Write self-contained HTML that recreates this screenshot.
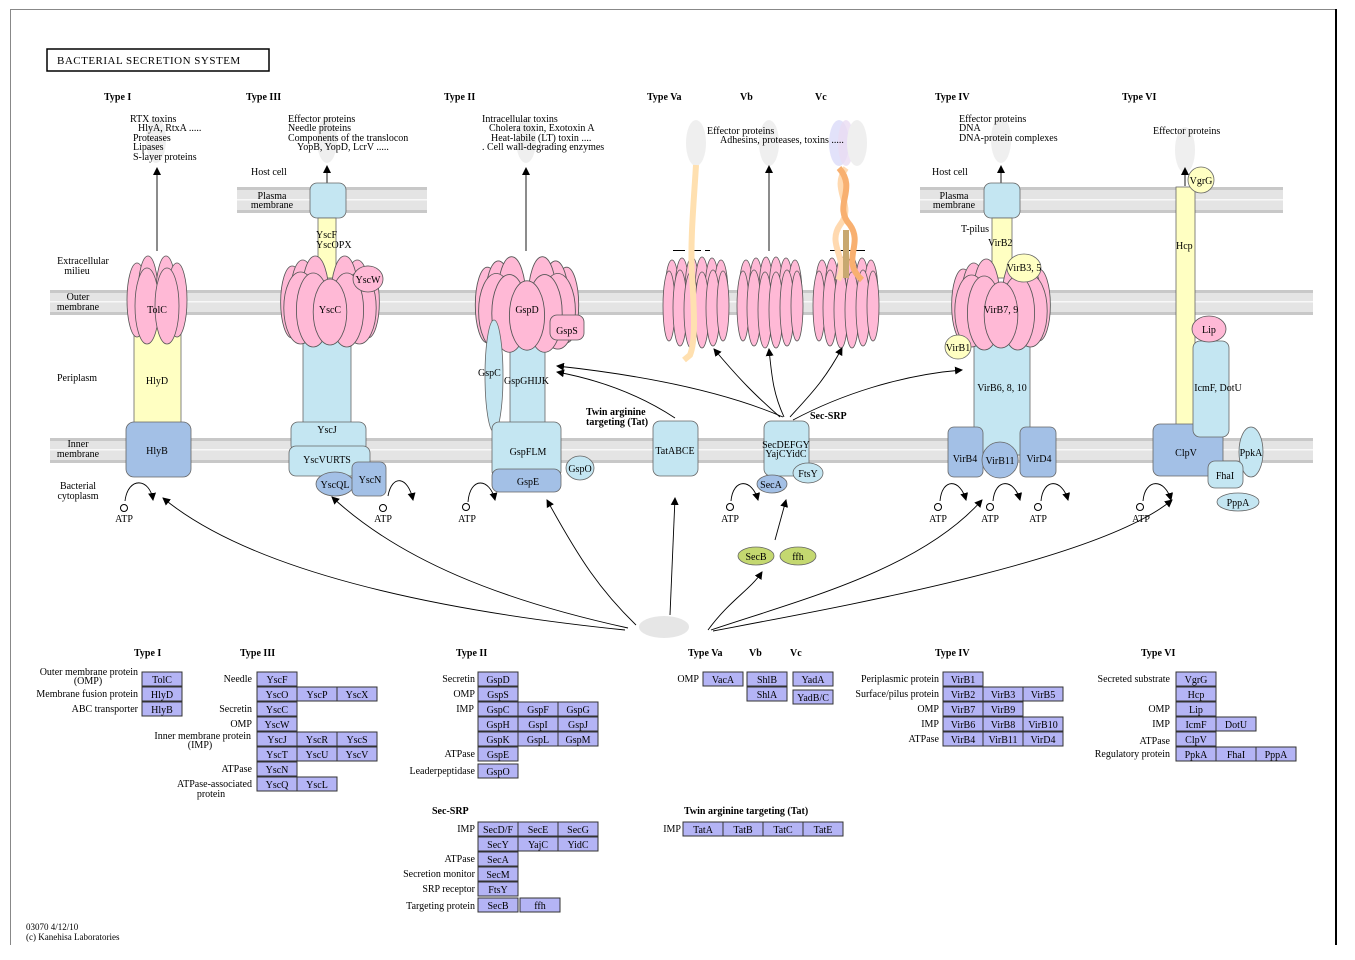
<!DOCTYPE html>
<html><head><meta charset="utf-8"><style>
html,body{margin:0;padding:0;background:#fff;}
svg{display:block;font-family:"Liberation Serif",serif;}
text{font-size:10px;fill:#000;}
.b{font-weight:bold;}
.tb rect{fill:#b4b4f5;stroke:#333;stroke-width:1;}
.tb text{text-anchor:middle;}
.r{text-anchor:end;}
.m{text-anchor:middle;}
.pk{fill:#ffb9d6;stroke:#555;stroke-width:0.8;}
.ye{fill:#ffffc2;stroke:#666;stroke-width:0.8;}
.lb{fill:#c4e6f2;stroke:#666;stroke-width:0.8;}
.db{fill:#a3c0e6;stroke:#666;stroke-width:0.8;}
.gr{fill:#c4d870;stroke:#666;stroke-width:0.8;}
.ar{fill:none;stroke:#000;stroke-width:0.9;marker-end:url(#ah);}
.gh{fill:#efefef;}
</style></head><body>
<svg width="1355" height="960" viewBox="0 0 1355 960">
<defs>
<marker id="ah" markerWidth="8" markerHeight="8" refX="7" refY="4" orient="auto" markerUnits="userSpaceOnUse"><path d="M0,0 L8,4 L0,8 z" fill="#000"/></marker>
<g id="dome">
<ellipse class="pk" cx="-36" cy="0" rx="11" ry="36"/><ellipse class="pk" cx="36" cy="0" rx="11" ry="36"/>
<ellipse class="pk" cx="-26" cy="-4" rx="12" ry="38"/><ellipse class="pk" cx="26" cy="-4" rx="12" ry="38"/>
<ellipse class="pk" cx="-14" cy="-6" rx="13" ry="40"/><ellipse class="pk" cx="14" cy="-6" rx="13" ry="40"/>
<ellipse class="pk" cx="-28" cy="6" rx="16" ry="36"/><ellipse class="pk" cx="28" cy="6" rx="16" ry="36"/>
<ellipse class="pk" cx="-16" cy="8" rx="16" ry="37"/><ellipse class="pk" cx="16" cy="8" rx="16" ry="37"/>
<ellipse class="pk" cx="0" cy="10" rx="16" ry="33"/>
</g>
<g id="barrel">
<ellipse class="pk" cx="-24" cy="-8" rx="7" ry="34"/><ellipse class="pk" cx="-14" cy="-10" rx="7" ry="34"/><ellipse class="pk" cx="-4" cy="-11" rx="7" ry="34"/><ellipse class="pk" cx="6" cy="-11" rx="7" ry="34"/><ellipse class="pk" cx="16" cy="-10" rx="7" ry="34"/><ellipse class="pk" cx="25" cy="-8" rx="7" ry="34"/>
<ellipse class="pk" cx="-27" cy="4" rx="6" ry="35"/><ellipse class="pk" cx="-16" cy="6" rx="7" ry="38"/><ellipse class="pk" cx="-5" cy="8" rx="7" ry="38"/><ellipse class="pk" cx="6" cy="8" rx="7" ry="38"/><ellipse class="pk" cx="17" cy="6" rx="7" ry="38"/><ellipse class="pk" cx="27" cy="4" rx="6" ry="35"/>
</g>
</defs>

<line x1="10" y1="9.5" x2="1336" y2="9.5" stroke="#888" stroke-width="1"/>
<line x1="10.5" y1="10" x2="10.5" y2="945" stroke="#888" stroke-width="1"/>
<line x1="1336" y1="9" x2="1336" y2="945" stroke="#000" stroke-width="2"/>

<rect x="47" y="49" width="222" height="22" fill="#fff" stroke="#000" stroke-width="1.5"/>
<text x="57" y="64" style="font-size:11px;letter-spacing:0.5px">BACTERIAL  SECRETION  SYSTEM</text>

<g>
<rect x="50" y="290" width="1263" height="25" fill="#e4e4e4"/><rect x="50" y="290" width="1263" height="3" fill="#c8c8c8"/><rect x="50" y="312" width="1263" height="3" fill="#c8c8c8"/><rect x="50" y="301" width="1263" height="1.5" fill="#f8f8f8"/>
<rect x="50" y="438" width="1263" height="25" fill="#e4e4e4"/><rect x="50" y="438" width="1263" height="3" fill="#c8c8c8"/><rect x="50" y="460" width="1263" height="3" fill="#c8c8c8"/><rect x="50" y="449" width="1263" height="1.5" fill="#f8f8f8"/>
<rect x="237" y="187" width="190" height="26" fill="#e4e4e4"/><rect x="237" y="187" width="190" height="3" fill="#c8c8c8"/><rect x="237" y="210" width="190" height="3" fill="#c8c8c8"/><rect x="237" y="199" width="190" height="1.5" fill="#f8f8f8"/>
<rect x="920" y="187" width="363" height="26" fill="#e4e4e4"/><rect x="920" y="187" width="363" height="3" fill="#c8c8c8"/><rect x="920" y="210" width="363" height="3" fill="#c8c8c8"/><rect x="920" y="199" width="363" height="1.5" fill="#f8f8f8"/>
</g>

<text x="83" y="264" class="m">Extracellular</text><text x="77" y="274" class="m">milieu</text>
<text x="78" y="300" class="m">Outer</text><text x="78" y="310" class="m">membrane</text>
<text x="77" y="381" class="m">Periplasm</text>
<text x="78" y="447" class="m">Inner</text><text x="78" y="457" class="m">membrane</text>
<text x="78" y="489" class="m">Bacterial</text><text x="78" y="499" class="m">cytoplasm</text>

<text x="104" y="100" class="b">Type I</text>
<text x="246" y="100" class="b">Type III</text>
<text x="444" y="100" class="b">Type II</text>
<text x="647" y="100" class="b">Type Va</text>
<text x="740" y="100" class="b">Vb</text>
<text x="815" y="100" class="b">Vc</text>
<text x="935" y="100" class="b">Type IV</text>
<text x="1122" y="100" class="b">Type VI</text>

<ellipse class="gh" cx="156" cy="140" rx="10" ry="23"/>
<ellipse class="gh" cx="327" cy="140" rx="10" ry="23"/>
<ellipse class="gh" cx="526" cy="140" rx="10" ry="23"/>
<ellipse class="gh" cx="696" cy="143" rx="10" ry="23"/>
<ellipse class="gh" cx="769" cy="143" rx="10" ry="23"/>
<ellipse fill="#e2e2fa" cx="839" cy="143" rx="10" ry="23"/><ellipse fill="#eadcf2" cx="846" cy="143" rx="8" ry="23" opacity="0.8"/><ellipse class="gh" cx="857" cy="143" rx="10" ry="23"/>
<ellipse class="gh" cx="1001" cy="140" rx="10" ry="23"/>
<ellipse class="gh" cx="1185" cy="150" rx="10" ry="23"/>

<text x="130" y="122">RTX toxins</text><text x="138" y="131">HlyA, RtxA  .....</text><text x="133" y="141">Proteases</text><text x="133" y="150">Lipases</text><text x="133" y="160">S-layer proteins</text>
<line class="ar" x1="157" y1="251" x2="157" y2="168"/>
<rect class="ye" x="134" y="320" width="47" height="105"/>
<text x="157" y="384" class="m">HlyD</text>
<g transform="translate(157,300)">
<ellipse class="pk" cx="-20" cy="0" rx="10" ry="37"/><ellipse class="pk" cx="-9" cy="-6" rx="10" ry="38"/><ellipse class="pk" cx="9" cy="-6" rx="10" ry="38"/><ellipse class="pk" cx="20" cy="0" rx="10" ry="37"/>
<ellipse class="pk" cx="-10" cy="6" rx="12" ry="38"/><ellipse class="pk" cx="10" cy="6" rx="12" ry="38"/>
</g>
<text x="157" y="313" class="m">TolC</text>
<rect class="db" x="126" y="422" width="65" height="55" rx="8"/>
<text x="157" y="454" class="m">HlyB</text>

<text x="288" y="122">Effector proteins</text><text x="288" y="131">Needle proteins</text><text x="288" y="141">Components of the translocon</text><text x="297" y="150">YopB, YopD, LcrV  .....</text>
<text x="251" y="175">Host cell</text>
<text x="272" y="199" class="m">Plasma</text><text x="272" y="208" class="m">membrane</text>
<line class="ar" x1="327" y1="183" x2="327" y2="166"/>
<rect class="lb" x="310" y="183" width="36" height="35" rx="7"/>
<rect class="ye" x="318" y="218" width="18" height="60"/>
<text x="316" y="238">YscF</text><text x="316" y="248">YscOPX</text>
<rect class="lb" x="303" y="330" width="48" height="100"/>
<use href="#dome" transform="translate(330,302) scale(1.05,1)"/>
<text x="330" y="313" class="m">YscC</text>
<ellipse class="pk" cx="368" cy="279" rx="15" ry="13"/><text x="368" y="283" class="m">YscW</text>
<rect class="lb" x="291" y="422" width="75" height="30" rx="7"/><text x="327" y="433" class="m">YscJ</text>
<rect class="lb" x="289" y="446" width="81" height="30" rx="7"/><text x="327" y="463" class="m">YscVURTS</text>
<ellipse class="db" cx="335" cy="484" rx="19" ry="12"/><text x="335" y="488" class="m">YscQL</text>
<rect class="db" x="352" y="462" width="34" height="34" rx="6"/><text x="370" y="483" class="m">YscN</text>
<path class="ar" d="M388,496 C392,474 408,476 413,500"/>
<circle cx="383" cy="508" r="3.5" fill="#fff" stroke="#000"/><text x="383" y="522" class="m">ATP</text>
<path class="ar" d="M125,501 C128,476 150,478 153,500"/>
<circle cx="124" cy="508" r="3.5" fill="#fff" stroke="#000"/><text x="124" y="522" class="m">ATP</text>

<text x="482" y="122">Intracellular toxins</text><text x="489" y="131">Cholera toxin, Exotoxin A</text><text x="491" y="141">Heat-labile (LT) toxin  ....</text><text x="482" y="150">. Cell wall-degrading enzymes</text>
<line class="ar" x1="526" y1="251" x2="526" y2="168"/>
<rect class="lb" x="510" y="325" width="35" height="100"/>
<use href="#dome" transform="translate(527,305) scale(1.1,1.05)"/>
<text x="527" y="313" class="m">GspD</text>
<rect class="pk" x="550" y="315" width="34" height="25" rx="7"/><text x="567" y="334" class="m">GspS</text>
<ellipse class="lb" cx="494" cy="376" rx="9" ry="56"/>
<text x="478" y="376">GspC</text><text x="504" y="384">GspGHIJK</text>
<rect class="lb" x="492" y="422" width="69" height="56" rx="7"/><text x="528" y="455" class="m">GspFLM</text>
<rect class="db" x="492" y="469" width="69" height="23" rx="7"/><text x="528" y="485" class="m">GspE</text>
<ellipse class="lb" cx="580" cy="468" rx="14" ry="12"/><text x="580" y="472" class="m">GspO</text>
<path class="ar" d="M468,502 C470,476 490,478 495,500"/>
<circle cx="466" cy="507" r="3.5" fill="#fff" stroke="#000"/><text x="467" y="522" class="m">ATP</text>

<text x="586" y="415" class="b">Twin arginine</text><text x="586" y="425" class="b">targeting (Tat)</text>
<rect class="lb" x="653" y="421" width="45" height="55" rx="7"/><text x="675" y="454" class="m">TatABCE</text>

<text x="707" y="134">Effector proteins</text><text x="720" y="143">Adhesins, proteases, toxins .....</text>
<line class="ar" x1="769" y1="251" x2="769" y2="166"/>
<line x1="673" y1="250.5" x2="710" y2="250.5" stroke="#000" stroke-dasharray="12,4"/>
<line x1="830" y1="250.5" x2="865" y2="250.5" stroke="#000"/>
<use href="#barrel" transform="translate(696,302)"/>
<use href="#barrel" transform="translate(770,302)"/>
<use href="#barrel" transform="translate(846,302)"/>
<path d="M696,165 C694,200 690,240 692,275 C694,310 696,340 690,355 L684,360" fill="none" stroke="#ffe0b0" stroke-width="6"/>
<path d="M846,168 C830,190 856,205 840,225 C826,245 850,260 838,280" fill="none" stroke="#ffd9b0" stroke-width="6"/>
<path d="M839,168 C858,190 832,205 850,225 C864,245 840,260 862,280" fill="none" stroke="#f8b070" stroke-width="6"/>
<path d="M846,230 L846,278" stroke="#c8a870" stroke-width="6"/>

<rect class="lb" x="764" y="421" width="45" height="55" rx="7"/>
<text x="786" y="448" class="m">SecDEFGY</text><text x="786" y="457" class="m">YajCYidC</text>
<ellipse class="lb" cx="808" cy="473" rx="15" ry="10"/><text x="808" y="477" class="m">FtsY</text>
<ellipse class="db" cx="772" cy="484" rx="15" ry="9"/><text x="771" y="488" class="m">SecA</text>
<text x="810" y="419" class="b">Sec-SRP</text>
<path class="ar" d="M731,501 C733,478 752,478 758,500"/>
<circle cx="730" cy="507" r="3.5" fill="#fff" stroke="#000"/><text x="730" y="522" class="m">ATP</text>
<ellipse class="gr" cx="756" cy="556" rx="18" ry="9"/><text x="756" y="560" class="m">SecB</text>
<ellipse class="gr" cx="798" cy="556" rx="18" ry="9"/><text x="798" y="560" class="m">ffh</text>
<line class="ar" x1="775" y1="540" x2="786" y2="500"/>
<path class="ar" d="M783,417 C720,390 640,375 557,366"/>
<path class="ar" d="M675,418 C640,395 600,380 557,372"/>
<path class="ar" d="M780,417 C755,395 740,380 714,349"/>
<path class="ar" d="M784,417 C774,395 772,380 769,349"/>
<path class="ar" d="M790,417 C810,395 825,380 842,348"/>
<path class="ar" d="M793,420 C840,395 900,375 962,370"/>

<text x="959" y="122">Effector proteins</text><text x="959" y="131">DNA</text><text x="959" y="141">DNA-protein complexes</text>
<text x="932" y="175">Host cell</text>
<text x="954" y="199" class="m">Plasma</text><text x="954" y="208" class="m">membrane</text>
<line class="ar" x1="1001" y1="183" x2="1001" y2="166"/>
<rect class="lb" x="984" y="183" width="36" height="35" rx="7"/>
<rect class="ye" x="992" y="218" width="20" height="60"/>
<text x="961" y="232">T-pilus</text><text x="988" y="246">VirB2</text>
<rect class="lb" x="974" y="330" width="56" height="125"/>
<use href="#dome" transform="translate(1001,305) scale(1.05,1)"/>
<text x="1001" y="313" class="m">VirB7, 9</text>
<ellipse class="ye" cx="1024" cy="268" rx="17" ry="14"/><text x="1024" y="271" class="m">VirB3, 5</text>
<ellipse class="ye" cx="958" cy="347" rx="13" ry="12"/><text x="958" y="351" class="m">VirB1</text>
<text x="1002" y="391" class="m">VirB6, 8, 10</text>
<rect class="db" x="948" y="427" width="35" height="50" rx="6"/><text x="965" y="462" class="m">VirB4</text>
<rect class="db" x="1020" y="427" width="36" height="50" rx="6"/><text x="1039" y="462" class="m">VirD4</text>
<circle class="db" cx="1000" cy="460" r="18"/><text x="1000" y="464" class="m">VirB11</text>
<path class="ar" d="M940,501 C942,478 960,478 966,500"/>
<circle cx="938" cy="507" r="3.5" fill="#fff" stroke="#000"/><text x="938" y="522" class="m">ATP</text>
<path class="ar" d="M993,501 C995,478 1014,478 1020,500"/>
<circle cx="990" cy="507" r="3.5" fill="#fff" stroke="#000"/><text x="990" y="522" class="m">ATP</text>
<path class="ar" d="M1041,501 C1043,478 1062,478 1068,500"/>
<circle cx="1038" cy="507" r="3.5" fill="#fff" stroke="#000"/><text x="1038" y="522" class="m">ATP</text>

<text x="1153" y="134">Effector proteins</text>
<line class="ar" x1="1185" y1="186" x2="1185" y2="168"/>
<rect class="ye" x="1176" y="187" width="19" height="240"/>
<text x="1176" y="249">Hcp</text>
<circle class="ye" cx="1201" cy="180" r="13"/><text x="1201" y="184" class="m">VgrG</text>
<rect class="db" x="1153" y="424" width="70" height="52" rx="7"/><text x="1186" y="456" class="m">ClpV</text>
<rect class="lb" x="1193" y="341" width="36" height="96" rx="7"/><text x="1218" y="391" class="m">IcmF, DotU</text>
<ellipse class="pk" cx="1209" cy="329" rx="17" ry="13"/><text x="1209" y="333" class="m">Lip</text>
<ellipse class="lb" cx="1251" cy="452" rx="12" ry="25"/><text x="1251" y="456" class="m">PpkA</text>
<rect class="lb" x="1208" y="461" width="35" height="27" rx="7"/><text x="1225" y="479" class="m">FhaI</text>
<ellipse class="lb" cx="1238" cy="502" rx="21" ry="9"/><text x="1238" y="506" class="m">PppA</text>
<path class="ar" d="M1143,501 C1145,478 1165,478 1171,500"/>
<circle cx="1140" cy="507" r="3.5" fill="#fff" stroke="#000"/><text x="1141" y="522" class="m">ATP</text>

<ellipse fill="#e6e6e6" cx="664" cy="627" rx="25" ry="11"/>
<path class="ar" d="M625,630 C430,610 250,570 163,498"/>
<path class="ar" d="M628,628 C500,600 400,560 332,497"/>
<path class="ar" d="M636,625 C600,590 580,560 547,500"/>
<line class="ar" x1="670" y1="615" x2="675" y2="498"/>
<path class="ar" d="M708,630 C730,600 750,590 762,572"/>
<path class="ar" d="M711,630 C800,600 920,570 982,500"/>
<path class="ar" d="M713,631 C850,605 1100,560 1172,500"/>

<text x="134" y="656" class="b">Type I</text>
<text x="240" y="656" class="b">Type III</text>
<text x="456" y="656" class="b">Type II</text>
<text x="688" y="656" class="b">Type Va</text>
<text x="749" y="656" class="b">Vb</text>
<text x="790" y="656" class="b">Vc</text>
<text x="935" y="656" class="b">Type IV</text>
<text x="1141" y="656" class="b">Type VI</text>
<text x="432" y="814" class="b">Sec-SRP</text>
<text x="684" y="814" class="b">Twin arginine targeting (Tat)</text>

<g style="font-size:9.5px">
<text x="138" y="675" class="r">Outer membrane  protein</text><text x="88" y="684" class="m">(OMP)</text>
<text x="138" y="697" class="r">Membrane fusion protein</text>
<text x="138" y="712" class="r">ABC transporter</text>
<text x="252" y="682" class="r">Needle</text><text x="252" y="712" class="r">Secretin</text><text x="252" y="727" class="r">OMP</text>
<text x="251" y="739" class="r">Inner membrane protein</text><text x="200" y="748" class="m">(IMP)</text>
<text x="252" y="772" class="r">ATPase</text><text x="252" y="787" class="r">ATPase-associated</text><text x="211" y="797" class="m">protein</text>
<text x="475" y="682" class="r">Secretin</text><text x="475" y="697" class="r">OMP</text><text x="474" y="712" class="r">IMP</text><text x="475" y="757" class="r">ATPase</text><text x="475" y="774" class="r">Leaderpeptidase</text>
<text x="699" y="682" class="r">OMP</text>
<text x="939" y="682" class="r">Periplasmic protein</text><text x="939" y="697" class="r">Surface/pilus protein</text><text x="939" y="712" class="r">OMP</text><text x="939" y="727" class="r">IMP</text><text x="939" y="742" class="r">ATPase</text>
<text x="1170" y="682" class="r">Secreted substrate</text><text x="1170" y="712" class="r">OMP</text><text x="1170" y="727" class="r">IMP</text><text x="1170" y="744" class="r">ATPase</text><text x="1170" y="757" class="r">Regulatory protein</text>
<text x="475" y="832" class="r">IMP</text><text x="475" y="862" class="r">ATPase</text><text x="475" y="877" class="r">Secretion monitor</text><text x="475" y="892" class="r">SRP receptor</text><text x="475" y="909" class="r">Targeting protein</text>
<text x="681" y="832" class="r">IMP</text>
</g>

<g class="tb" style="font-size:9.5px">
<rect x="142" y="672" width="40" height="14"/><text x="162" y="683">TolC</text>
<rect x="142" y="687" width="40" height="14"/><text x="162" y="698">HlyD</text>
<rect x="142" y="702" width="40" height="14"/><text x="162" y="713">HlyB</text>
<rect x="257" y="672" width="40" height="14"/><text x="277" y="683">YscF</text>
<rect x="257" y="687" width="40" height="14"/><text x="277" y="698">YscO</text>
<rect x="297" y="687" width="40" height="14"/><text x="317" y="698">YscP</text>
<rect x="337" y="687" width="40" height="14"/><text x="357" y="698">YscX</text>
<rect x="257" y="702" width="40" height="14"/><text x="277" y="713">YscC</text>
<rect x="257" y="717" width="40" height="14"/><text x="277" y="728">YscW</text>
<rect x="257" y="732" width="40" height="14"/><text x="277" y="743">YscJ</text>
<rect x="297" y="732" width="40" height="14"/><text x="317" y="743">YscR</text>
<rect x="337" y="732" width="40" height="14"/><text x="357" y="743">YscS</text>
<rect x="257" y="747" width="40" height="14"/><text x="277" y="758">YscT</text>
<rect x="297" y="747" width="40" height="14"/><text x="317" y="758">YscU</text>
<rect x="337" y="747" width="40" height="14"/><text x="357" y="758">YscV</text>
<rect x="257" y="762" width="40" height="14"/><text x="277" y="773">YscN</text>
<rect x="257" y="777" width="40" height="14"/><text x="277" y="788">YscQ</text>
<rect x="297" y="777" width="40" height="14"/><text x="317" y="788">YscL</text>
<rect x="478" y="672" width="40" height="14"/><text x="498" y="683">GspD</text>
<rect x="478" y="687" width="40" height="14"/><text x="498" y="698">GspS</text>
<rect x="478" y="702" width="40" height="14"/><text x="498" y="713">GspC</text>
<rect x="518" y="702" width="40" height="14"/><text x="538" y="713">GspF</text>
<rect x="558" y="702" width="40" height="14"/><text x="578" y="713">GspG</text>
<rect x="478" y="717" width="40" height="14"/><text x="498" y="728">GspH</text>
<rect x="518" y="717" width="40" height="14"/><text x="538" y="728">GspI</text>
<rect x="558" y="717" width="40" height="14"/><text x="578" y="728">GspJ</text>
<rect x="478" y="732" width="40" height="14"/><text x="498" y="743">GspK</text>
<rect x="518" y="732" width="40" height="14"/><text x="538" y="743">GspL</text>
<rect x="558" y="732" width="40" height="14"/><text x="578" y="743">GspM</text>
<rect x="478" y="747" width="40" height="14"/><text x="498" y="758">GspE</text>
<rect x="478" y="764" width="40" height="14"/><text x="498" y="775">GspO</text>
<rect x="703" y="672" width="40" height="14"/><text x="723" y="683">VacA</text>
<rect x="747" y="672" width="40" height="14"/><text x="767" y="683">ShlB</text>
<rect x="747" y="687" width="40" height="14"/><text x="767" y="698">ShlA</text>
<rect x="793" y="672" width="40" height="14"/><text x="813" y="683">YadA</text>
<rect x="793" y="690" width="40" height="14"/><text x="813" y="701">YadB/C</text>
<rect x="943" y="672" width="40" height="14"/><text x="963" y="683">VirB1</text>
<rect x="943" y="687" width="40" height="14"/><text x="963" y="698">VirB2</text>
<rect x="983" y="687" width="40" height="14"/><text x="1003" y="698">VirB3</text>
<rect x="1023" y="687" width="40" height="14"/><text x="1043" y="698">VirB5</text>
<rect x="943" y="702" width="40" height="14"/><text x="963" y="713">VirB7</text>
<rect x="983" y="702" width="40" height="14"/><text x="1003" y="713">VirB9</text>
<rect x="943" y="717" width="40" height="14"/><text x="963" y="728">VirB6</text>
<rect x="983" y="717" width="40" height="14"/><text x="1003" y="728">VirB8</text>
<rect x="1023" y="717" width="40" height="14"/><text x="1043" y="728">VirB10</text>
<rect x="943" y="732" width="40" height="14"/><text x="963" y="743">VirB4</text>
<rect x="983" y="732" width="40" height="14"/><text x="1003" y="743">VirB11</text>
<rect x="1023" y="732" width="40" height="14"/><text x="1043" y="743">VirD4</text>
<rect x="1176" y="672" width="40" height="14"/><text x="1196" y="683">VgrG</text>
<rect x="1176" y="687" width="40" height="14"/><text x="1196" y="698">Hcp</text>
<rect x="1176" y="702" width="40" height="14"/><text x="1196" y="713">Lip</text>
<rect x="1176" y="717" width="40" height="14"/><text x="1196" y="728">IcmF</text>
<rect x="1216" y="717" width="40" height="14"/><text x="1236" y="728">DotU</text>
<rect x="1176" y="732" width="40" height="14"/><text x="1196" y="743">ClpV</text>
<rect x="1176" y="747" width="40" height="14"/><text x="1196" y="758">PpkA</text>
<rect x="1216" y="747" width="40" height="14"/><text x="1236" y="758">FhaI</text>
<rect x="1256" y="747" width="40" height="14"/><text x="1276" y="758">PppA</text>
<rect x="478" y="822" width="40" height="14"/><text x="498" y="833">SecD/F</text>
<rect x="518" y="822" width="40" height="14"/><text x="538" y="833">SecE</text>
<rect x="558" y="822" width="40" height="14"/><text x="578" y="833">SecG</text>
<rect x="478" y="837" width="40" height="14"/><text x="498" y="848">SecY</text>
<rect x="518" y="837" width="40" height="14"/><text x="538" y="848">YajC</text>
<rect x="558" y="837" width="40" height="14"/><text x="578" y="848">YidC</text>
<rect x="478" y="852" width="40" height="14"/><text x="498" y="863">SecA</text>
<rect x="478" y="867" width="40" height="14"/><text x="498" y="878">SecM</text>
<rect x="478" y="882" width="40" height="14"/><text x="498" y="893">FtsY</text>
<rect x="478" y="898" width="40" height="14"/><text x="498" y="909">SecB</text>
<rect x="520" y="898" width="40" height="14"/><text x="540" y="909">ffh</text>
<rect x="683" y="822" width="40" height="14"/><text x="703" y="833">TatA</text>
<rect x="723" y="822" width="40" height="14"/><text x="743" y="833">TatB</text>
<rect x="763" y="822" width="40" height="14"/><text x="783" y="833">TatC</text>
<rect x="803" y="822" width="40" height="14"/><text x="823" y="833">TatE</text>
</g>

<text x="26" y="930" style="font-size:9px">03070 4/12/10</text>
<text x="26" y="940" style="font-size:9px">(c) Kanehisa Laboratories</text>
</svg>
</body></html>
